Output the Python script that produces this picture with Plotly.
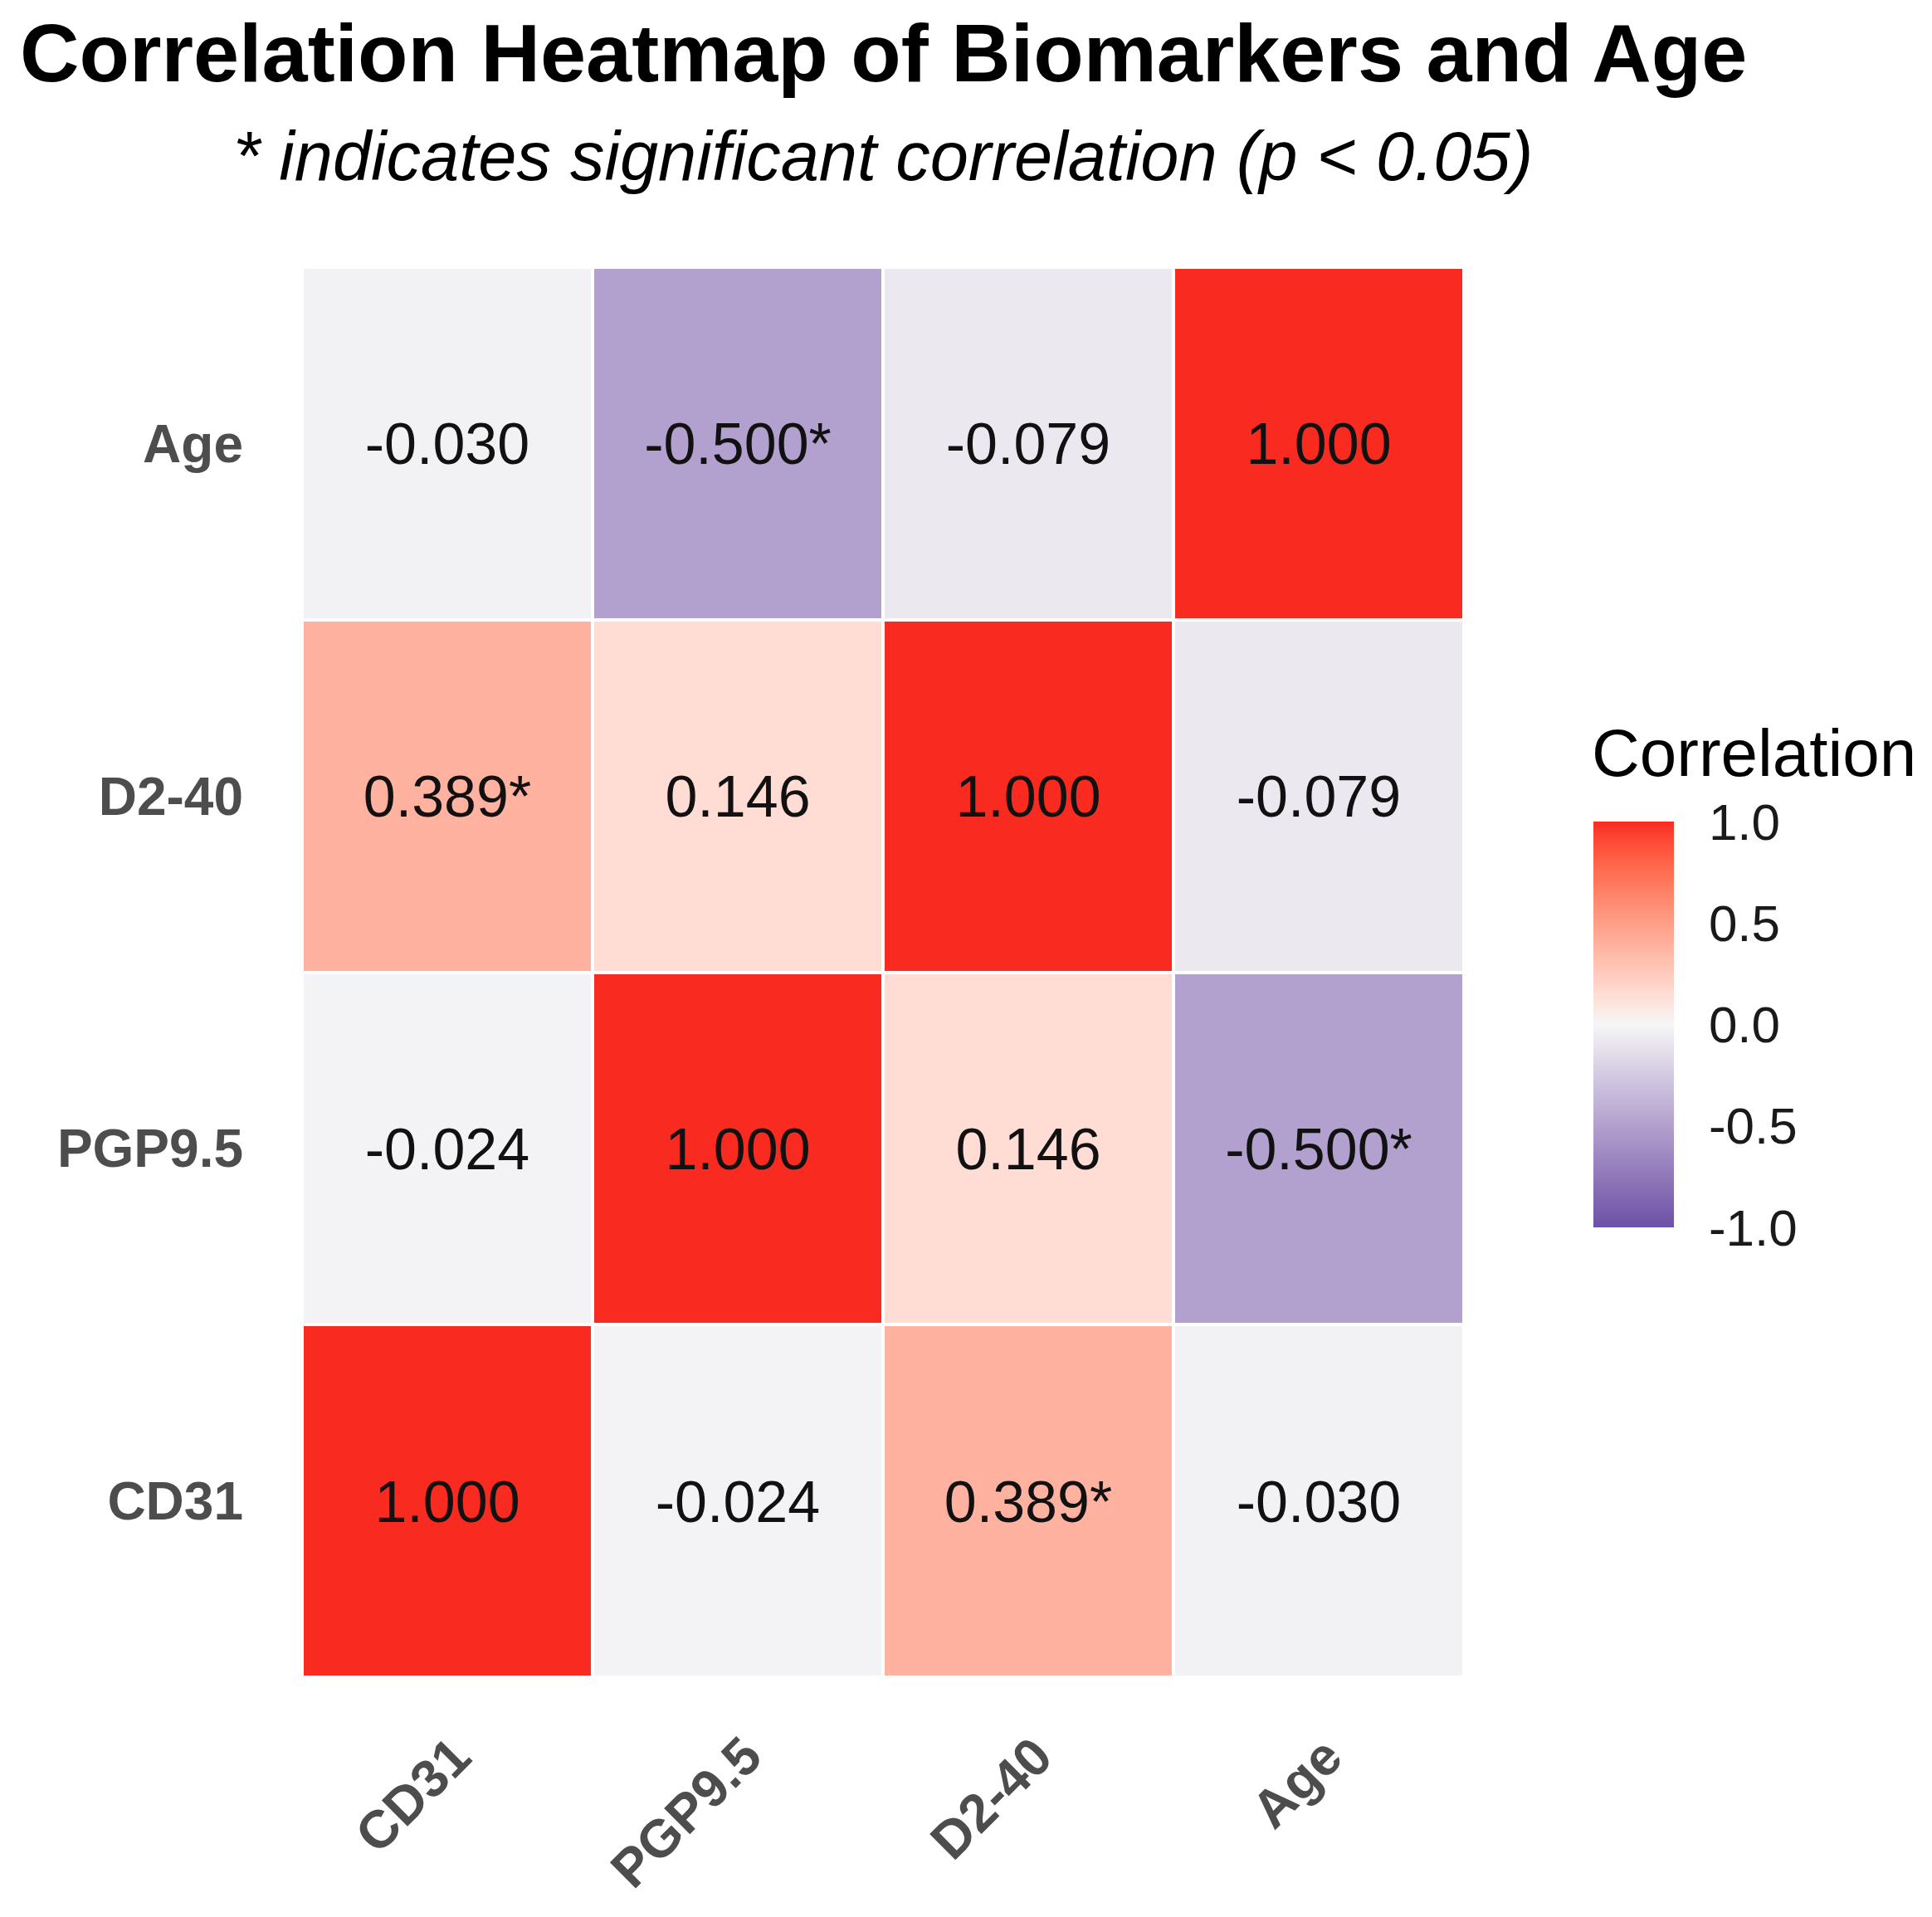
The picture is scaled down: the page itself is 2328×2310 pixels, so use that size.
import plotly.graph_objects as go

# ---------------- data ----------------
markers = ["CD31", "PGP9.5", "D2-40", "Age"]
# rows follow y order (bottom to top): CD31, PGP9.5, D2-40, Age
corr_cd31 = [1.000, -0.024, 0.389, -0.030]
corr_pgp = [-0.024, 1.000, 0.146, -0.500]
corr_d240 = [0.389, 0.146, 1.000, -0.079]
corr_age = [-0.030, -0.500, -0.079, 1.000]
sig_cd31 = [False, False, True, False]
sig_pgp = [False, False, False, True]
sig_d240 = [True, False, False, False]
sig_age = [False, True, False, False]
cbar_ticks = [-1.0, -0.5, 0.0, 0.5, 1.0]

z = [corr_cd31, corr_pgp, corr_d240, corr_age]
sig = [sig_cd31, sig_pgp, sig_d240, sig_age]
text = [[f"{v:.3f}" + ("*" if s else "") for v, s in zip(row, srow)] for row, srow in zip(z, sig)]

# ---------------- colour scale (Lab interpolation, like gradient2) ----------------
LOW, MID, HIGH = "#6C51A6", "#F6F6F6", "#F92B20"


def hex2rgb(h):
    h = h.lstrip("#")
    return [int(h[i:i + 2], 16) / 255 for i in (0, 2, 4)]


def srgb2lin(c):
    return c / 12.92 if c <= 0.04045 else ((c + 0.055) / 1.055) ** 2.4


def lin2srgb(c):
    c = max(0.0, min(1.0, c))
    return 12.92 * c if c <= 0.0031308 else 1.055 * c ** (1 / 2.4) - 0.055


WX, WY, WZ = 0.95047, 1.0, 1.08883


def rgb2lab(rgb):
    r, g, b = [srgb2lin(c) for c in rgb]
    x = (0.4124 * r + 0.3576 * g + 0.1805 * b) / WX
    y = (0.2126 * r + 0.7152 * g + 0.0722 * b) / WY
    zz = (0.0193 * r + 0.1192 * g + 0.9505 * b) / WZ
    f = lambda t: t ** (1 / 3) if t > 0.008856 else 7.787 * t + 16 / 116
    fx, fy, fz = f(x), f(y), f(zz)
    return [116 * fy - 16, 500 * (fx - fy), 200 * (fy - fz)]


def lab2rgb(lab):
    L, a, b = lab
    fy = (L + 16) / 116
    fx = fy + a / 500
    fz = fy - b / 200
    finv = lambda t: t ** 3 if t ** 3 > 0.008856 else (t - 16 / 116) / 7.787
    x, y, zz = finv(fx) * WX, finv(fy) * WY, finv(fz) * WZ
    r = 3.2406 * x - 1.5372 * y - 0.4986 * zz
    g = -0.9689 * x + 1.8758 * y + 0.0415 * zz
    bb = 0.0557 * x - 0.2040 * y + 1.0570 * zz
    return [round(lin2srgb(c) * 255) for c in (r, g, bb)]


lab_low, lab_mid, lab_high = rgb2lab(hex2rgb(LOW)), rgb2lab(hex2rgb(MID)), rgb2lab(hex2rgb(HIGH))
colorscale = []
N = 40
for i in range(N + 1):
    t = i / N
    if t <= 0.5:
        u = t / 0.5
        lab = [lab_low[k] + (lab_mid[k] - lab_low[k]) * u for k in range(3)]
    else:
        u = (t - 0.5) / 0.5
        lab = [lab_mid[k] + (lab_high[k] - lab_mid[k]) * u for k in range(3)]
    r, g, b = lab2rgb(lab)
    colorscale.append([t, f"rgb({r},{g},{b})"])

# ---------------- layout geometry (pixels) ----------------
W, H = 2328, 2310
ML, MR, MT, MB = 364, 564, 322, 289
PW, PH = W - ML - MR, H - MT - MB
FONT = "Liberation Sans, Arial, sans-serif"

CB_LEFT, CB_THICK, CB_TOP, CB_LEN = 1920, 97, 990, 489
cb_cy = CB_TOP + CB_LEN / 2


def px2paper_x(px):
    return (px - ML) / PW


def px2paper_y(py):
    return (H - MB - py) / PH


fig = go.Figure(
    go.Heatmap(
        x=markers,
        y=markers,
        z=z,
        text=text,
        texttemplate="%{text}",
        textfont=dict(family=FONT, size=70, color="#111111"),
        zmin=-1,
        zmax=1,
        colorscale=colorscale,
        xgap=4,
        ygap=4,
        hoverinfo="skip",
        colorbar=dict(
            x=px2paper_x(CB_LEFT), xanchor="left",
            y=px2paper_y(cb_cy), yanchor="middle",
            thickness=CB_THICK, thicknessmode="pixels",
            len=CB_LEN, lenmode="pixels",
            outlinewidth=0,
            tickvals=cbar_ticks,
            ticktext=[f"{v:.1f}" for v in cbar_ticks],
            ticks="outside", ticklen=30, tickcolor="rgba(0,0,0,0)",
            tickfont=dict(family=FONT, size=62, color="#1a1a1a"),
            xpad=0, ypad=0,
        ),
    )
)

# white tick marks on both sides of the colour bar (ggplot style)
shapes = []
tick_len = CB_THICK / 5
for v in cbar_ticks:
    ypx = cb_cy - v * CB_LEN / 2
    yp = px2paper_y(ypx)
    for x0px, x1px in [(CB_LEFT, CB_LEFT + tick_len), (CB_LEFT + CB_THICK - tick_len, CB_LEFT + CB_THICK)]:
        shapes.append(dict(type="line", xref="paper", yref="paper",
                           x0=px2paper_x(x0px), x1=px2paper_x(x1px), y0=yp, y1=yp,
                           line=dict(color="white", width=3), layer="above"))

# rotated x-axis labels (ggplot style: top-right corner at the tick)
x_labels = [
    dict(text=f"<b>{m}</b>", xref="x", yref="paper", x=m, y=0, xanchor="right", yanchor="top",
         xshift=45, yshift=-56, textangle=-45, showarrow=False,
         font=dict(family=FONT, size=64, color="#4D4D4D"))
    for m in markers
]

fig.update_layout(
    width=W,
    height=H,
    margin=dict(l=ML, r=MR, t=MT, b=MB, pad=0),
    paper_bgcolor="white",
    plot_bgcolor="white",
    font=dict(family=FONT),
    shapes=shapes,
    annotations=[
        dict(text="<b>Correlation Heatmap of Biomarkers and Age</b>", xref="paper", yref="paper",
             x=0.5, y=px2paper_y(63), xanchor="center", yanchor="middle", showarrow=False,
             font=dict(family=FONT, size=99, color="#000000")),
        dict(text="<i>* indicates significant correlation (p &lt; 0.05)</i>", xref="paper", yref="paper",
             x=0.5, y=px2paper_y(189), xanchor="center", yanchor="middle", showarrow=False,
             font=dict(family=FONT, size=83, color="#000000")),
        dict(text="Correlation", xref="paper", yref="paper",
             x=px2paper_x(CB_LEFT - 4), y=px2paper_y(907), xanchor="left", yanchor="middle",
             showarrow=False, font=dict(family=FONT, size=80, color="#000000")),
    ] + x_labels,
    xaxis=dict(
        type="category", categoryorder="array", categoryarray=markers,
        showgrid=False, zeroline=False, showline=False, ticks="",
        showticklabels=False,
    ),
    yaxis=dict(
        type="category", categoryorder="array", categoryarray=markers,
        showgrid=False, zeroline=False, showline=False, ticks="",
        ticklabelstandoff=70,
        tickfont=dict(family=FONT, size=64, color="#4D4D4D", weight="bold"),
    ),
)

fig.write_html("out.html", config={"displayModeBar": False},
               post_script="document.body.style.margin='0px';")
